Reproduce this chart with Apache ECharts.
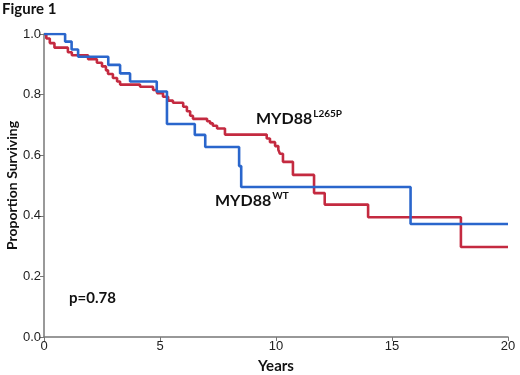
<!DOCTYPE html>
<html>
<head>
<meta charset="utf-8">
<script src="https://cdn.jsdelivr.net/npm/echarts@6/dist/echarts.min.js"></script>
<style>
  html, body { margin: 0; padding: 0; background: #fff; }
  #chart { width: 520px; height: 375px; }
</style>
</head>
<body>
<div id="chart"></div>
<script>
  // survival curves, [years, proportion surviving] at each drop
  var wtTimes = [0, 0.91, 1.19, 1.47, 2.77, 3.28, 3.71, 4.86, 5.3, 6.5, 6.95, 8.41, 8.5, 15.8, 20];
  var wtSurv = [1.0, 0.975, 0.949, 0.925, 0.898, 0.870, 0.843, 0.810, 0.703, 0.667, 0.627, 0.564, 0.495, 0.373, 0.373];

  var mutTimes = [0, 0.1, 0.25, 0.45, 1.03, 1.2, 1.9, 2.28, 2.5, 2.67, 2.76, 2.97, 3.15, 3.28, 4.14, 4.7, 4.87, 5.13, 5.35, 5.56,
    6.0, 6.16, 6.3, 6.42, 7.03, 7.16, 7.28, 7.46, 7.8, 9.6, 9.74, 9.96, 10.1, 10.17, 10.3, 10.73, 11.64, 12.1, 13.97, 17.97, 20];
  var mutSurv = [1.0, 0.985, 0.97, 0.955, 0.94, 0.93, 0.917, 0.905, 0.893, 0.88, 0.868, 0.855, 0.843, 0.833, 0.826, 0.815, 0.805, 0.793, 0.78, 0.773,
    0.76, 0.745, 0.73, 0.72, 0.712, 0.705, 0.697, 0.688, 0.668, 0.655, 0.643, 0.63, 0.618, 0.605, 0.578, 0.535, 0.475, 0.437, 0.395, 0.297, 0.297];

  var xTicks = [0, 5, 10, 15, 20];
  var yTicks = [0, 0.2, 0.4, 0.6, 0.8, 1.0];

  function pairs(ts, ss) {
    var out = [];
    for (var i = 0; i < ts.length; i++) out.push([ts[i], ss[i]]);
    return out;
  }

  var boldFont = 'Lato';
  var chart = echarts.init(document.getElementById('chart'));
  chart.setOption({
    animation: false,
    grid: { left: 44, right: 12, top: 34, bottom: 38, outerBoundsMode: 'none', containLabel: false },
    xAxis: {
      type: 'value',
      min: xTicks[0],
      max: xTicks[xTicks.length - 1],
      interval: 5,
      name: 'Years',
      nameLocation: 'middle',
      nameGap: 22,
      nameMoveOverlap: false,
      nameTextStyle: { fontFamily: boldFont, fontWeight: 'bold', fontSize: 15, color: '#111' },
      axisLine: { lineStyle: { color: '#777', width: 1.5 } },
      axisTick: { show: true, length: 4, lineStyle: { color: '#777' } },
      axisLabel: { fontFamily: 'Liberation Sans', fontSize: 13, color: '#222', margin: 3 },
      splitLine: { show: false }
    },
    yAxis: {
      type: 'value',
      min: yTicks[0],
      max: yTicks[yTicks.length - 1],
      interval: 0.2,
      name: 'Proportion Surviving',
      nameLocation: 'middle',
      nameGap: 25,
      nameMoveOverlap: false,
      nameTextStyle: { fontFamily: boldFont, fontWeight: 'bold', fontSize: 14, color: '#111' },
      axisLine: { show: true, lineStyle: { color: '#777', width: 1.5 } },
      axisTick: { show: true, length: 4, lineStyle: { color: '#777' } },
      axisLabel: {
        fontFamily: 'Liberation Sans', fontSize: 13, color: '#222', margin: 3,
        formatter: function (v) { return v.toFixed(1); }
      },
      splitLine: { show: false }
    },
    series: [
      {
        name: 'MYD88 L265P',
        type: 'line',
        step: 'end',
        symbol: 'none',
        lineStyle: { color: '#c42a40', width: 2.6 },
        data: pairs(mutTimes, mutSurv),
        z: 2
      },
      {
        name: 'MYD88 WT',
        type: 'line',
        step: 'end',
        symbol: 'none',
        lineStyle: { color: '#2a66cc', width: 2.6 },
        data: pairs(wtTimes, wtSurv),
        z: 3
      }
    ],
    graphic: [
      {
        type: 'text', left: 2, top: 2,
        style: { text: 'Figure 1', font: 'bold 15px Lato', fill: '#111' }
      },
      {
        type: 'text', left: 256, top: 109,
        style: {
          text: '{b|MYD88}{s|L265P}',
          rich: {
            b: { fontFamily: boldFont, fontWeight: 'bold', fontSize: 16, fill: '#111', verticalAlign: 'bottom' },
            s: { fontFamily: boldFont, fontWeight: 'bold', fontSize: 10, fill: '#111', verticalAlign: 'top', padding: [0, 0, 8, 1] }
          }
        }
      },
      {
        type: 'text', left: 215, top: 191,
        style: {
          text: '{b|MYD88}{s|WT}',
          rich: {
            b: { fontFamily: boldFont, fontWeight: 'bold', fontSize: 16, fill: '#111', verticalAlign: 'bottom' },
            s: { fontFamily: boldFont, fontWeight: 'bold', fontSize: 10, fill: '#111', verticalAlign: 'top', padding: [0, 0, 8, 1] }
          }
        }
      },
      {
        type: 'text', left: 69, top: 291,
        style: { text: 'p=0.78', font: 'bold 15px Lato', fill: '#111' }
      }
    ]
  });
</script>
</body>
</html>
